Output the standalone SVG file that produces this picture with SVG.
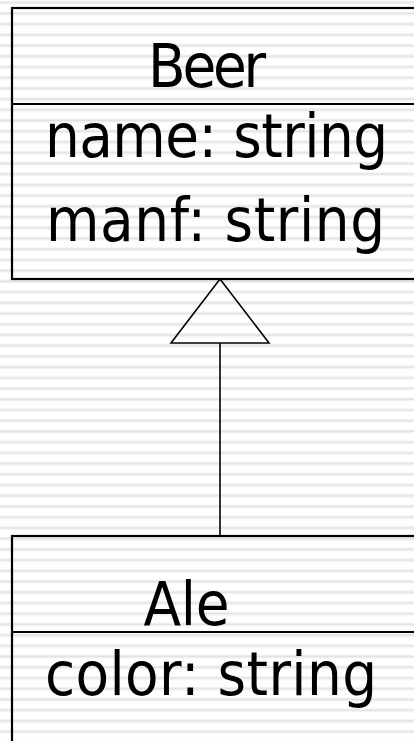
<svg xmlns="http://www.w3.org/2000/svg" width="414" height="741" viewBox="0 0 414 741">
<style>
.box{fill:none;stroke:#000;stroke-width:2.2}
.div{stroke:#000;stroke-width:2.2}
.conn{stroke:#000;stroke-width:1.6;fill:none}
.t{font-family:"DejaVu Sans Condensed","DejaVu Sans",Tahoma,sans-serif;font-size:61px;fill:#000}
</style>
<defs>
<pattern id="stripes" patternUnits="userSpaceOnUse" width="414" height="10.72" y="-2.66">
<rect width="414" height="10.72" fill="#ffffff"/>
<rect y="3.6" width="414" height="0.9" fill="#f0f0f0"/>
<rect y="4.5" width="414" height="1.8" fill="#e2e2e2"/>
<rect y="6.3" width="414" height="0.9" fill="#f0f0f0"/>
</pattern>
</defs>
<rect width="414" height="741" fill="url(#stripes)"/>
<g id="beer">
<rect class="box" x="12" y="8" width="420" height="271"/>
<line class="div" x1="12" y1="104" x2="414" y2="104"/>
<text class="t" x="148" y="87" textLength="118">Beer</text>
<text class="t" x="45" y="157" textLength="343">name: string</text>
<text class="t" x="46" y="241" textLength="339">manf: string</text>
</g>
<g id="ale">
<rect class="box" x="12" y="536" width="420" height="220"/>
<line class="div" x1="12" y1="632" x2="414" y2="632"/>
<text class="t" x="143.5" y="625" textLength="86">Ale</text>
<text class="t" x="45" y="695" textLength="332">color: string</text>
</g>
<g id="connectors">
<line class="conn" x1="220" y1="343" x2="220" y2="536"/>
<polygon class="conn" points="220,279 269,343 171,343"/>
</g>
</svg>
